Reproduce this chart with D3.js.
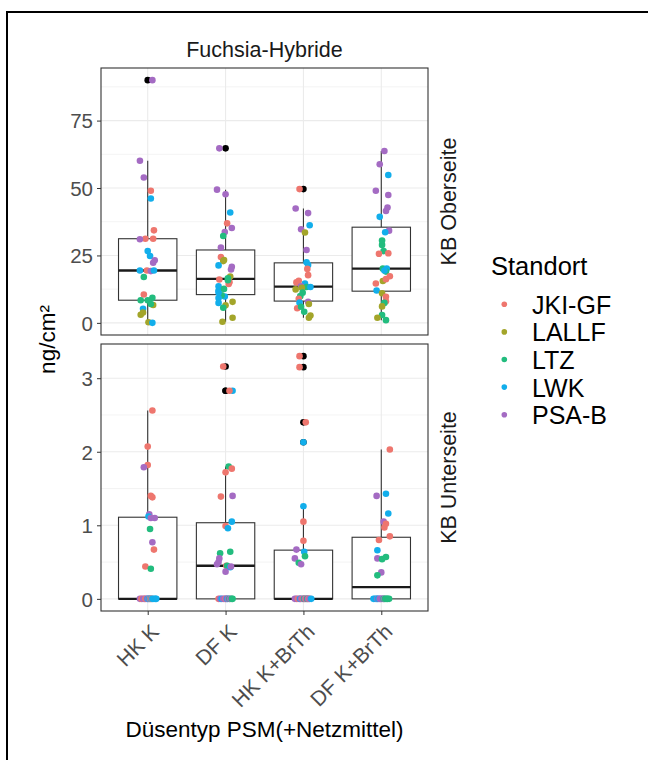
<!DOCTYPE html>
<html>
<head>
<meta charset="utf-8">
<script src="https://cdn.jsdelivr.net/npm/d3@7"></script>
<style>
  body { margin: 0; background: #fff; }
  text { font-family: "Liberation Sans", Arial, sans-serif; }
</style>
</head>
<body>
<div id="chart"></div>
<script>
// categories and labels
var categories = ["HK K", "DF K", "HK K+BrTh", "DF K+BrTh"];
var standorte = ["JKI-GF", "LALLF", "LTZ", "LWK", "PSA-B"];
var facetTitle = "Fuchsia-Hybride";
var rowFacets = ["KB Oberseite", "KB Unterseite"];
var oberTicks = [0, 25, 50, 75];
var unterTicks = [0, 1, 2, 3];

// points: [Standort, value ng/cm², jitter offset in category units]
var ober_HKK = [
  ["PSA-B",90,0.06],["PSA-B",60.1,-0.10],["PSA-B",53.9,-0.05],["JKI-GF",49.0,0.04],
  ["LWK",46.1,0.04],["JKI-GF",34.3,0.08],["JKI-GF",31.2,-0.03],["PSA-B",31.0,-0.10],
  ["JKI-GF",31.2,0.07],["LWK",26.6,0.0],["LWK",24.8,0.03],["PSA-B",23.2,0.09],
  ["PSA-B",22.3,0.07],["LWK",19.4,-0.10],["JKI-GF",19.4,-0.01],["PSA-B",19.2,0.04],
  ["LWK",19.4,0.08],["LTZ",17.0,-0.05],["JKI-GF",10.5,-0.05],["LTZ",8.4,-0.09],
  ["LTZ",8.4,0.0],["LTZ",9.3,0.06],["LALLF",6.6,0.07],["LTZ",7.0,0.04],
  ["LWK",5.2,-0.06],["LALLF",3.0,-0.09],["LALLF",3.8,-0.06],["LALLF",0.2,0.01],["LWK",0.0,0.06]
];
var ober_DFK = [
  ["PSA-B",64.7,-0.08],["PSA-B",49.4,-0.11],["PSA-B",47.7,0.0],["LWK",40.9,0.06],
  ["JKI-GF",36.9,0.02],["PSA-B",35.2,0.08],["PSA-B",33.7,-0.01],["LTZ",32.2,-0.03],
  ["PSA-B",27.9,-0.06],["JKI-GF",24.4,-0.06],["LALLF",22.9,-0.03],["LWK",21.3,-0.09],
  ["PSA-B",20.8,0.08],["LALLF",17.2,0.06],["LTZ",16.5,0.03],["JKI-GF",16.1,-0.08],
  ["JKI-GF",15.1,0.05],["LWK",13.6,-0.09],["LWK",12.0,-0.09],["LWK",9.8,-0.01],
  ["LTZ",10.2,-0.05],["LWK",9.2,-0.09],["LALLF",7.8,0.09],["LWK",7.4,-0.09],
  ["LALLF",6.5,0.0],["LTZ",5.6,-0.03],["LALLF",1.9,0.09],["LALLF",0.4,-0.04],
  ["LWK",11.3,-0.09],["LTZ",12.6,-0.02],["JKI-GF",14.4,0.04],["LTZ",15.8,0.03],
  ["PSA-B",19.8,0.07],["LALLF",23.3,-0.02]
];
var ober_HKB = [
  ["JKI-GF",49.6,-0.05],["PSA-B",42.4,-0.10],["PSA-B",40.7,0.06],["LWK",36.2,0.08],
  ["PSA-B",34.7,-0.03],["LALLF",33.5,0.02],["PSA-B",27.0,0.04],["LWK",22.5,0.04],
  ["LWK",21.5,0.06],["JKI-GF",17.7,0.06],["JKI-GF",15.6,-0.06],["JKI-GF",15.0,-0.09],
  ["LWK",14.6,0.02],["PSA-B",13.6,-0.03],["LTZ",13.3,0.04],["LWK",13.3,0.09],
  ["LALLF",12.4,-0.10],["LALLF",13.0,-0.02],["LTZ",11.2,-0.01],["LTZ",9.9,-0.04],
  ["JKI-GF",8.9,-0.06],["PSA-B",7.8,0.06],["LWK",7.5,-0.05],["JKI-GF",5.4,-0.08],
  ["LTZ",4.1,0.01],["LALLF",2.7,0.09],["LALLF",1.9,0.07],["LTZ",6.0,-0.03],
  ["LALLF",7.0,0.07],["JKI-GF",20.0,0.05]
];
var ober_DFB = [
  ["PSA-B",63.7,0.04],["PSA-B",58.8,-0.02],["LWK",54.8,0.09],["PSA-B",49.0,-0.07],
  ["PSA-B",47.4,0.09],["PSA-B",42.8,0.08],["PSA-B",41.5,0.06],["LWK",39.3,-0.02],
  ["PSA-B",34.2,0.10],["LWK",33.6,0.05],["LTZ",28.9,0.01],["LTZ",26.6,0.03],
  ["JKI-GF",25.8,0.09],["JKI-GF",25.6,-0.03],["LTZ",20.1,0.02],["LWK",20.1,0.07],
  ["LTZ",19.0,0.06],["LWK",19.4,0.04],["JKI-GF",17.3,0.11],["LALLF",15.5,0.02],
  ["JKI-GF",16.2,0.06],["JKI-GF",14.6,-0.07],["LWK",12.0,-0.06],["LALLF",11.0,0.01],
  ["JKI-GF",9.7,0.06],["JKI-GF",8.0,0.06],["LTZ",7.4,0.04],["LALLF",6.1,0.01],
  ["LTZ",2.9,0.01],["LALLF",1.9,-0.05],["LTZ",1.0,0.06],["LTZ",30.5,0.01]
];

var unter_HKK = [
  ["JKI-GF",2.56,0.06],["JKI-GF",2.07,0.0],["JKI-GF",1.82,0.0],["PSA-B",1.79,-0.05],
  ["JKI-GF",1.40,0.04],["JKI-GF",1.38,0.06],["PSA-B",1.15,0.02],["LWK",1.12,0.01],
  ["PSA-B",1.10,0.04],["PSA-B",1.10,0.09],["LTZ",0.95,0.03],["PSA-B",0.77,0.06],
  ["JKI-GF",0.67,0.08],["JKI-GF",0.44,-0.03],["LTZ",0.41,0.04],
  ["PSA-B",0,-0.10],["JKI-GF",0,-0.08],["PSA-B",0,-0.06],["PSA-B",0,-0.04],
  ["JKI-GF",0,-0.03],["PSA-B",0,-0.01],["LWK",0,0.0],["PSA-B",0,0.01],
  ["LWK",0,0.02],["JKI-GF",0,0.03],["LWK",0,0.04],["JKI-GF",0,0.05],
  ["LWK",0,0.06],["LWK",0,0.08],["LWK",0,0.10],["LWK",0,0.11]
];
var unter_DFK = [
  ["JKI-GF",3.16,-0.03],["LWK",2.83,0.09],["JKI-GF",2.83,0.05],["LTZ",1.80,0.04],
  ["JKI-GF",1.77,0.08],["JKI-GF",1.72,0.0],["JKI-GF",1.39,-0.06],["PSA-B",1.40,0.09],
  ["LWK",1.05,0.08],["JKI-GF",0.99,0.0],["LWK",0.96,0.03],["LTZ",0.62,-0.07],
  ["LTZ",0.64,0.06],["PSA-B",0.50,-0.09],["PSA-B",0.47,-0.11],["JKI-GF",0.45,0.01],
  ["LTZ",0.45,0.02],["LWK",0.43,0.06],["PSA-B",0.44,0.07],["PSA-B",0.37,0.0],
  ["PSA-B",0.55,-0.08],
  ["JKI-GF",0,-0.09],["PSA-B",0,-0.07],["LWK",0,-0.05],["PSA-B",0,-0.03],
  ["PSA-B",0,-0.01],["JKI-GF",0,0.0],["PSA-B",0,0.01],["LWK",0,0.02],
  ["PSA-B",0,0.03],["LTZ",0,0.05],["PSA-B",0,0.06],["LTZ",0,0.08],["LTZ",0,0.09]
];
var unter_HKB = [
  ["JKI-GF",3.30,-0.05],["JKI-GF",3.15,-0.05],["JKI-GF",2.40,0.03],["LWK",2.13,0.0],
  ["LWK",1.26,0.0],["JKI-GF",1.05,0.0],["JKI-GF",0.79,0.0],["PSA-B",0.67,-0.09],
  ["LWK",0.64,0.01],["LTZ",0.58,0.02],["PSA-B",0.55,-0.11],["LTZ",0.49,-0.06],
  ["PSA-B",0.47,-0.03],
  ["PSA-B",0,-0.11],["PSA-B",0,-0.09],["JKI-GF",0,-0.07],["PSA-B",0,-0.05],
  ["LWK",0,-0.04],["PSA-B",0,-0.03],["JKI-GF",0,-0.01],["PSA-B",0,0.0],
  ["LTZ",0,0.01],["PSA-B",0,0.02],["JKI-GF",0,0.03],["PSA-B",0,0.04],
  ["LTZ",0,0.05],["PSA-B",0,0.06],["JKI-GF",0,0.07],["PSA-B",0,0.08],["LWK",0,0.10]
];
var unter_DFB = [
  ["JKI-GF",2.03,0.11],["PSA-B",1.40,-0.06],["LWK",1.43,0.06],["LWK",1.16,0.09],
  ["PSA-B",1.05,0.03],["JKI-GF",1.02,0.06],["JKI-GF",0.97,0.04],["JKI-GF",0.85,0.11],
  ["JKI-GF",0.80,-0.03],["LWK",0.66,-0.05],["PSA-B",0.55,-0.05],["LTZ",0.54,0.01],
  ["LTZ",0.57,0.06],["PSA-B",0.36,0.0],["LTZ",0.32,-0.05],
  ["LWK",0,-0.10],["LWK",0,-0.08],["LWK",0,-0.06],["PSA-B",0,-0.05],
  ["LWK",0,-0.04],["PSA-B",0,-0.02],["PSA-B",0,-0.01],["PSA-B",0,0.0],
  ["PSA-B",0,0.02],["LTZ",0,0.03],["PSA-B",0,0.04],["LTZ",0,0.05],
  ["LTZ",0,0.07],["LTZ",0,0.08],["LTZ",0,0.10]
];

// set the dimensions
var width = 648, height = 760;
var plotLeft = 101, plotRight = 428;
var panelBoxes = [[68, 335], [344, 611]];

var panels = [
  { label: rowFacets[0], groups: [ober_HKK, ober_DFK, ober_HKB, ober_DFB], ticks: oberTicks },
  { label: rowFacets[1], groups: [unter_HKK, unter_DFK, unter_HKB, unter_DFB], ticks: unterTicks }
];

var color = d3.scaleOrdinal()
  .domain(standorte)
  .range(["#EE766E", "#A3A52A", "#22BC7E", "#12AEEB", "#A46BC3"]);

var x = d3.scalePoint()
  .domain(categories)
  .range([plotLeft, plotRight])
  .padding(0.6);

var svg = d3.select("#chart")
  .append("svg")
    .attr("width", width)
    .attr("height", height);

svg.append("rect")
  .attr("width", width).attr("height", height)
  .attr("fill", "white");

// outer frame (only left and top visible)
svg.append("rect")
  .attr("x", 7).attr("y", 12)
  .attr("width", 700).attr("height", 800)
  .attr("fill", "none")
  .attr("stroke", "black")
  .attr("stroke-width", 2);

// boxplot stats like ggplot (type 7 quantiles, 1.5 IQR whiskers)
function boxStats(values) {
  var v = values.slice().sort(d3.ascending);
  var q1 = d3.quantile(v, 0.25), med = d3.quantile(v, 0.5), q3 = d3.quantile(v, 0.75);
  var iqr = q3 - q1;
  var inside = v.filter(d => d >= q1 - 1.5 * iqr && d <= q3 + 1.5 * iqr);
  return {
    q1: q1, med: med, q3: q3,
    lo: d3.min(inside), hi: d3.max(inside),
    out: v.filter(d => d < q1 - 1.5 * iqr || d > q3 + 1.5 * iqr)
  };
}

panels.forEach(function(p, pi) {
  var top = panelBoxes[pi][0], bottom = panelBoxes[pi][1];
  var all = [].concat.apply([], p.groups).map(d => d[1]);
  var lo = Math.min(0, d3.min(all)), hi = d3.max(all);
  var pad = (hi - lo) * 0.05;
  var y = d3.scaleLinear().domain([lo - pad, hi + pad]).range([bottom, top]);

  var g = svg.append("g");

  // minor grid
  var step = p.ticks[1] - p.ticks[0];
  var minor = p.ticks.map(t => t + step / 2).filter(t => t < y.domain()[1]);
  g.selectAll(".minor").data(minor).enter().append("line")
    .attr("x1", plotLeft).attr("x2", plotRight)
    .attr("y1", d => y(d)).attr("y2", d => y(d))
    .attr("stroke", "#EBEBEB").attr("stroke-width", 0.6);
  // major grid
  g.selectAll(".major").data(p.ticks).enter().append("line")
    .attr("x1", plotLeft).attr("x2", plotRight)
    .attr("y1", d => y(d)).attr("y2", d => y(d))
    .attr("stroke", "#EBEBEB").attr("stroke-width", 1.1);
  g.selectAll(".vgrid").data(categories).enter().append("line")
    .attr("x1", d => x(d)).attr("x2", d => x(d))
    .attr("y1", top).attr("y2", bottom)
    .attr("stroke", "#EBEBEB").attr("stroke-width", 1.1);

  // boxplots
  var boxW = x.step() * 0.75;
  p.groups.forEach(function(grp, ci) {
    var s = boxStats(grp.map(d => d[1]));
    var cx = x(categories[ci]);
    g.append("line")
      .attr("x1", cx).attr("x2", cx).attr("y1", y(s.q3)).attr("y2", y(s.hi))
      .attr("stroke", "#333").attr("stroke-width", 1.1);
    g.append("line")
      .attr("x1", cx).attr("x2", cx).attr("y1", y(s.q1)).attr("y2", y(s.lo))
      .attr("stroke", "#333").attr("stroke-width", 1.1);
    g.append("rect")
      .attr("x", cx - boxW / 2).attr("width", boxW)
      .attr("y", y(s.q3)).attr("height", Math.max(0, y(s.q1) - y(s.q3)))
      .attr("fill", "white").attr("stroke", "#333").attr("stroke-width", 1.1);
    g.append("line")
      .attr("x1", cx - boxW / 2).attr("x2", cx + boxW / 2)
      .attr("y1", y(s.med)).attr("y2", y(s.med))
      .attr("stroke", "#1a1a1a").attr("stroke-width", 2.4);
    g.selectAll(null).data(s.out).enter().append("circle")
      .attr("cx", cx).attr("cy", d => y(d)).attr("r", 3.3)
      .attr("fill", "black");
  });

  // jittered points
  p.groups.forEach(function(grp, ci) {
    g.selectAll(null).data(grp).enter().append("circle")
      .attr("cx", d => x(categories[ci]) + d[2] * x.step())
      .attr("cy", d => y(d[1]))
      .attr("r", 3.3)
      .attr("fill", d => color(d[0]));
  });

  // panel border
  g.append("rect")
    .attr("x", plotLeft).attr("y", top)
    .attr("width", plotRight - plotLeft).attr("height", bottom - top)
    .attr("fill", "none").attr("stroke", "#333").attr("stroke-width", 1.1);

  // y axis
  var yAxis = g.append("g")
    .attr("transform", "translate(" + plotLeft + ",0)")
    .call(d3.axisLeft(y).tickValues(p.ticks).tickSize(4).tickPadding(4).tickFormat(d3.format("d")));
  yAxis.select(".domain").remove();
  yAxis.selectAll("line").attr("stroke", "#333");
  yAxis.selectAll("text")
    .attr("fill", "#4D4D4D")
    .style("font-size", "20.5px")
    .attr("dy", "0.36em");

  // row strip
  var my = (top + bottom) / 2;
  svg.append("text")
    .attr("transform", "translate(456," + my + ") rotate(-90)")
    .attr("text-anchor", "middle")
    .attr("fill", "#1A1A1A")
    .style("font-size", "21.5px")
    .text(p.label);

  // x axis on bottom panel
  if (pi === panels.length - 1) {
    var xAxis = svg.append("g")
      .attr("transform", "translate(0," + bottom + ")")
      .call(d3.axisBottom(x).tickSize(4));
    xAxis.select(".domain").remove();
    xAxis.selectAll("line").attr("stroke", "#333");
    xAxis.selectAll("text")
      .attr("x", 0).attr("y", 0).attr("dy", 0)
      .attr("text-anchor", "end")
      .attr("transform", "translate(12,22) rotate(-45)")
      .attr("fill", "#4D4D4D")
      .style("font-size", "21px");
  }
});

// column strip
svg.append("text")
  .attr("x", (plotLeft + plotRight) / 2).attr("y", 57)
  .attr("text-anchor", "middle")
  .attr("fill", "#1A1A1A")
  .style("font-size", "21.5px")
  .text(facetTitle);

// axis titles
svg.append("text")
  .attr("x", (plotLeft + plotRight) / 2).attr("y", 737)
  .attr("text-anchor", "middle")
  .style("font-size", "22.5px")
  .text("Düsentyp PSM(+Netzmittel)");

svg.append("text")
  .attr("transform", "translate(55," + (panelBoxes[0][0] + panelBoxes[1][1]) / 2 + ") rotate(-90)")
  .attr("text-anchor", "middle")
  .style("font-size", "22.5px")
  .text("ng/cm²");

// legend
var legend = svg.append("g");
legend.append("text")
  .attr("x", 491).attr("y", 275)
  .style("font-size", "25.5px")
  .text("Standort");

standorte.forEach(function(s, i) {
  var ly = 304.3 + i * 27.6;
  legend.append("circle")
    .attr("cx", 504.3).attr("cy", ly).attr("r", 2.8)
    .attr("fill", color(s));
  legend.append("text")
    .attr("x", 532).attr("y", ly)
    .attr("dy", "0.38em")
    .style("font-size", "25px")
    .text(s);
});
</script>
</body>
</html>
